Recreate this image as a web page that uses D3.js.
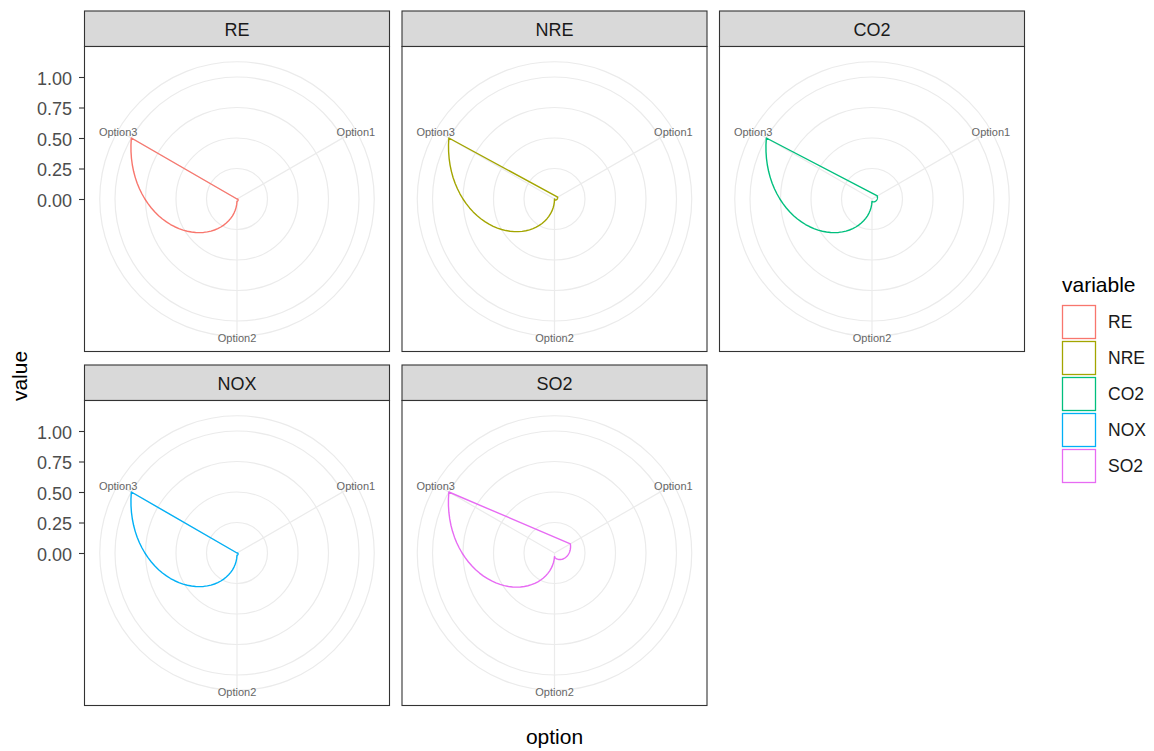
<!DOCTYPE html>
<html>
<head>
<meta charset="utf-8">
<script src="https://cdn.jsdelivr.net/npm/d3@7.9.0/dist/d3.min.js"></script>
<style>
  body { margin: 0; background: #fff; }
  svg { font-family: "Liberation Sans", Arial, sans-serif; }
</style>
</head>
<body>
<svg id="chart" width="1154" height="751"></svg>
<script>
// data (values already scaled 0..1)
const options = ['Option1', 'Option2', 'Option3'];
const variables = ['RE', 'NRE', 'CO2', 'NOX', 'SO2'];
const reValues = [0.00, 0.02, 1.00];
const nreValues = [0.03, 0.00, 1.00];
const co2Values = [0.05, 0.02, 1.00];
const noxValues = [0.00, 0.02, 1.00];
const so2Values = [0.15, 0.03, 1.00];
const rTicks = [0, 0.25, 0.5, 0.75, 1];
const colors = ['#F8766D', '#A3A500', '#00BF7D', '#00B0F6', '#E76BF3'];

const series = [reValues, nreValues, co2Values, noxValues, so2Values].map((vals, i) => ({
  name: variables[i],
  values: vals,
}));

const svg = d3.select('#chart');

// facet layout
const size = 305;
const stripH = 35.5;
const colX = [84.5, 402, 719.5];
const rowY = [46.5, 400.5];

const color = d3.scaleOrdinal(variables, colors);

// theta: discrete options spread round the full circle, like coord_polar
const theta = d3.scaleLinear().domain([0.5, options.length + 0.5]).range([0, 2 * Math.PI]);
const r = d3.scaleLinear().domain([0, 1]).range([0, 0.4 * size]);
const outerR = 0.45 * size;

const radial = d3.lineRadial()
  .angle((d) => d.a)
  .radius((d) => d.r)
  .curve(d3.curveLinearClosed);

// coord_polar "munches" each segment: interpolate in data space, then project
function munch(values) {
  const pts = [];
  const steps = 40;
  for (let i = 0; i < values.length - 1; i++) {
    for (let s = 0; s < steps; s++) {
      const t = s / steps;
      pts.push({ a: theta(i + 1 + t), r: r(values[i] + t * (values[i + 1] - values[i])) });
    }
  }
  const last = values.length - 1;
  pts.push({ a: theta(last + 1), r: r(values[last]) });
  return pts;
}

series.forEach((s, idx) => {
  const col = idx % 3;
  const row = Math.floor(idx / 3);
  const x0 = colX[col];
  const y0 = rowY[row];
  const cx = x0 + size / 2;
  const cy = y0 + size / 2;

  // strip
  svg.append('rect')
    .attr('x', x0).attr('y', y0 - stripH)
    .attr('width', size).attr('height', stripH)
    .attr('fill', '#D9D9D9').attr('stroke', '#333333').attr('stroke-width', 1.1);
  svg.append('text')
    .attr('x', cx).attr('y', y0 - stripH / 2)
    .attr('dy', '0.42em')
    .attr('text-anchor', 'middle')
    .attr('fill', '#1A1A1A')
    .style('font-size', '18px')
    .text(s.name);

  // panel
  svg.append('rect')
    .attr('x', x0).attr('y', y0)
    .attr('width', size).attr('height', size)
    .attr('fill', '#fff');

  const g = svg.append('g').attr('transform', `translate(${cx},${cy})`);

  // r grid circles + outer circle
  g.selectAll('circle.grid')
    .data(rTicks.map((d) => r(d)).concat([outerR]))
    .join('circle')
    .attr('class', 'grid')
    .attr('r', (d) => d)
    .attr('fill', 'none')
    .attr('stroke', '#EBEBEB')
    .attr('stroke-width', 1.2);

  // theta grid lines
  g.selectAll('line.spoke')
    .data(options)
    .join('line')
    .attr('class', 'spoke')
    .attr('x1', 0).attr('y1', 0)
    .attr('x2', (d, i) => outerR * Math.sin(theta(i + 1)))
    .attr('y2', (d, i) => -outerR * Math.cos(theta(i + 1)))
    .attr('stroke', '#EBEBEB')
    .attr('stroke-width', 1.2);

  // the polygon outline
  g.append('path')
    .attr('d', radial(munch(s.values)))
    .attr('fill', 'none')
    .attr('stroke', color(s.name))
    .attr('stroke-width', 1.4)
    .attr('stroke-linejoin', 'round');

  // theta labels
  g.selectAll('text.opt')
    .data(options)
    .join('text')
    .attr('class', 'opt')
    .attr('x', (d, i) => outerR * Math.sin(theta(i + 1)))
    .attr('y', (d, i) => -outerR * Math.cos(theta(i + 1)))
    .attr('dy', '0.55em')
    .attr('text-anchor', 'middle')
    .attr('fill', '#666666')
    .style('font-size', '11px')
    .text((d) => d);

  // panel border
  svg.append('rect')
    .attr('x', x0).attr('y', y0)
    .attr('width', size).attr('height', size)
    .attr('fill', 'none').attr('stroke', '#333333').attr('stroke-width', 1.1);

  // y axis on left column only
  if (col === 0) {
    const yScale = d3.scaleLinear().domain([0, 1]).range([cy, cy - 0.4 * size]);
    const axis = svg.append('g')
      .attr('transform', `translate(${x0 - 0.5},0)`)
      .call(d3.axisLeft(yScale).tickValues(rTicks).tickFormat(d3.format('.2f')).tickSize(5).tickPadding(7));
    axis.select('.domain').remove();
    axis.selectAll('.tick line').attr('stroke', '#333333').attr('stroke-width', 1.1);
    axis.selectAll('.tick text')
      .attr('fill', '#4D4D4D')
      .attr('dy', '0.4em')
      .style('font-size', '18px')
      .style('font-family', '"Liberation Sans", Arial, sans-serif');
  }
});

// axis titles
svg.append('text')
  .attr('transform', 'translate(27,376) rotate(-90)')
  .attr('text-anchor', 'middle')
  .style('font-size', '21px')
  .text('value');
svg.append('text')
  .attr('x', 554.5).attr('y', 744)
  .attr('text-anchor', 'middle')
  .style('font-size', '21px')
  .text('option');

// legend
const legend = svg.append('g').attr('transform', 'translate(1062,0)');
legend.append('text')
  .attr('x', 0).attr('y', 292)
  .style('font-size', '21px')
  .text('variable');
const items = legend.selectAll('g.item')
  .data(variables)
  .join('g')
  .attr('class', 'item')
  .attr('transform', (d, i) => `translate(0,${305 + i * 36})`);
items.append('rect')
  .attr('x', 0.5).attr('y', 0.5)
  .attr('width', 33).attr('height', 33)
  .attr('fill', '#fff')
  .attr('stroke', (d) => color(d))
  .attr('stroke-width', 1.3);
items.append('text')
  .attr('x', 46).attr('y', 17)
  .attr('dy', '0.36em')
  .attr('fill', '#1A1A1A')
  .style('font-size', '17.5px')
  .text((d) => d);
</script>
</body>
</html>
